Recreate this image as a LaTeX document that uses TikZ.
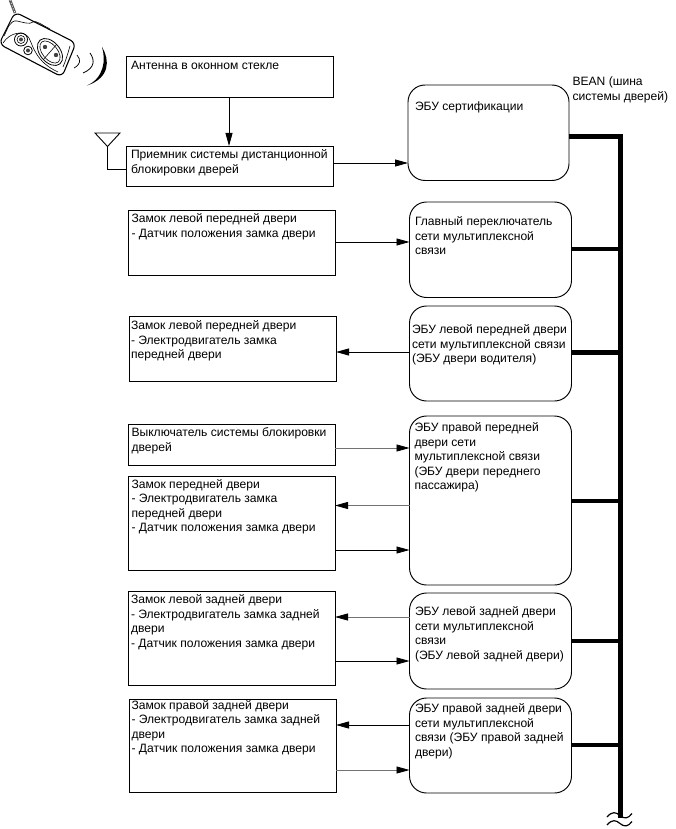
\documentclass[tikz,border=0pt]{standalone}
\usepackage{fontspec}
\setmainfont{Liberation Sans}
\usetikzlibrary{arrows.meta}
\tikzset{
  boxn/.style={draw=black,line width=.95pt,fill=white,inner sep=0pt,outer sep=0pt},
  roundn/.style={boxn,rounded corners=17pt},
  txt/.style={anchor=north west,inner sep=0pt,outer sep=0pt,align=left,
    font=\fontsize{12.1}{14.4}\selectfont,execute at begin node={\rule{0pt}{11pt}}},
  arr/.style={line width=.8pt,draw=black,-{Triangle[length=13pt,width=7pt,black]}},
  garr/.style={arr,draw=black!55},
  thin line/.style={line width=.9pt,draw=black},
  bus/.style={line width=5pt,draw=black,line cap=butt,line join=miter},
  stub/.style={line width=4.4pt,draw=black},
  fob/.style={line width=.8pt,draw=black},
}
\newcommand{\mkbox}[6]{\node[#1,minimum width={(#4-#2)*1pt},minimum height={(#5-#3)*1pt},anchor=north west] (#6) at (#2,#3) {};}
\begin{document}
\begin{tikzpicture}[x=1pt,y=-1pt]
\useasboundingbox (0,0) rectangle (675,829);
% key fob
\draw[line width=2.6pt,draw=black!65] (10,0) -- (15,13);
\draw[line width=.7pt,draw=white,dash pattern=on 1pt off 2pt] (10,0) -- (15,13);
\draw[fob,rounded corners=6pt,line width=1.1pt] (15,12) -- (76,43) -- (62,77) -- (-1,44) -- cycle;
\draw[fob,line width=.6pt] (4,36) .. controls (8,28) and (10,20) .. (17,21) .. controls (22,22) and (30,25) .. (33,22) .. controls (36,20) and (42,25) .. (50,29);
\draw[fob,line width=.6pt] (3,43) .. controls (10,32) and (24,30) .. (29,38) .. controls (33,46) and (36,62) .. (58,72);
\draw[fob,line width=.6pt] (70,46) .. controls (68,53) and (66,60) .. (63,67);
\draw[fob] (21,39.5) circle[radius=6.5];
\draw[fob,line width=.6pt] (21,39.5) circle[radius=4];
\fill[black!75] (21,39.5) circle[radius=2];
\draw[fob] (28,50.5) circle[radius=4.3];
\fill[black!75] (28,50.5) circle[radius=2];
\draw[fob,rotate around={-50:(50,52)}] (50,52) ellipse[x radius=15.5,y radius=10];
\draw[fob,line width=.6pt,rotate around={-50:(50,52)}] (50,52) ellipse[x radius=13,y radius=7.5];
\draw[fob,line width=.6pt] (43,60) -- (57,44);
\fill[black!75] (45,47) circle[radius=2.2];
\fill[black!75] (56,55) circle[radius=2.2];
% radio waves
\draw[fob,line width=.7pt] (77,55) .. controls (81,60) and (81,64) .. (74,68);
\draw[fob,line width=.8pt] (90,53) .. controls (95,60) and (95,68) .. (83,73);
\fill[black] (102,47) .. controls (110,60) and (110,78) .. (87,85.5) .. controls (104,78) and (106,60) .. (102,47) -- cycle;
% left boxes
\mkbox{boxn}{126}{56}{333}{97}{A}
\mkbox{boxn}{126}{146}{333}{186}{Rc}
\mkbox{boxn}{128}{210}{335}{275.5}{La}
\mkbox{boxn}{129}{316}{336}{381}{Lb}
\mkbox{boxn}{128}{424}{335}{465}{Lc}
\mkbox{boxn}{128}{476}{335}{570.5}{Ld}
\mkbox{boxn}{128}{591}{335}{685}{Le}
\mkbox{boxn}{129}{699}{336}{792.5}{Lf}
% right boxes
\mkbox{roundn}{408}{85}{569}{180.5}{Ea}
\mkbox{roundn}{409.5}{202}{571.5}{297.5}{Eb}
\mkbox{roundn}{409.5}{306}{571.5}{401}{Ec}
\mkbox{roundn}{409.5}{416}{571.5}{585}{Ed}
\mkbox{roundn}{409.5}{593}{571.5}{689}{Ee}
\mkbox{roundn}{409.5}{698}{571.5}{793}{Ef}
% texts
\node[txt] (tA) at (131,59) {Антенна в оконном стекле};
\node[txt] (tRc) at (131,150) {Приемник системы дистанционной\\блокировки дверей};
\node[txt] (tLa) at (131.5,214) {Замок левой передней двери\\- Датчик положения замка двери};
\node[txt] (tLb) at (131,321) {Замок левой передней двери\\- Электродвигатель замка\\передней двери};
\node[txt] (tLc) at (131.5,428) {Выключатель системы блокировки\\дверей};
\node[txt] (tLd) at (131.5,479.5) {Замок передней двери\\- Электродвигатель замка\\передней двери\\- Датчик положения замка двери};
\node[txt] (tLe) at (131,595) {Замок левой задней двери\\- Электродвигатель замка задней\\двери\\- Датчик положения замка двери};
\node[txt] (tLf) at (131.5,700.5) {Замок правой задней двери\\- Электродвигатель замка задней\\двери\\- Датчик положения замка двери};
\node[txt] (tEa) at (415,100) {ЭБУ сертификации};
\node[txt] (tEb) at (415,217) {Главный переключатель\\сети мультиплексной\\связи};
\node[txt] (tEc) at (412,325) {ЭБУ левой передней двери\\сети мультиплексной связи\\(ЭБУ двери водителя)};
\node[txt] (tEd) at (414.5,423) {ЭБУ правой передней\\двери сети\\мультиплексной связи\\(ЭБУ двери переднего\\пассажира)};
\node[txt] (tEe) at (415,607) {ЭБУ левой задней двери\\сети мультиплексной\\связи\\(ЭБУ левой задней двери)};
\node[txt] (tEf) at (415,704) {ЭБУ правой задней двери\\сети мультиплексной\\связи (ЭБУ правой задней\\двери)};
\node[txt] (tBus) at (572.5,77) {BEAN (шина\\системы дверей)};
% antenna
\coordinate (antL) at (95,133);
\coordinate (antR) at (120,133);
\coordinate (antT) at (107.5,146.5);
\draw[thin line] (antL) -- (antR) -- (antT) -- cycle;
\draw[thin line] (antT) |- (Rc.west|-0,169);
% arrows
\draw[arr] (A.south-|229,0) -- (Rc.north-|229,0);
\draw[arr] (Rc.east|-0,163) -- (Ea.west|-0,163);
\draw[arr] (La.east|-0,242) -- (Eb.west|-0,242);
\draw[arr] (Ec.west|-0,352) -- (Lb.east|-0,352);
\draw[garr] (Lc.east|-0,448) -- (Ed.west|-0,448);
\draw[garr] (Ed.west|-0,505.5) -- (Ld.east|-0,505.5);
\draw[arr] (Ld.east|-0,550) -- (Ed.west|-0,550);
\draw[garr] (Ee.west|-0,617) -- (Le.east|-0,617);
\draw[arr] (Le.east|-0,661) -- (Ee.west|-0,661);
\draw[arr] (Ef.west|-0,725) -- (Lf.east|-0,725);
\draw[garr] (Lf.east|-0,770) -- (Ef.west|-0,770);
% bus
\coordinate (busend) at (620,818);
\draw[bus] (Ea.east|-0,137) -| (busend);
\draw[stub] (Eb.east|-0,249) -- (busend|-0,249);
\draw[stub] (Ec.east|-0,352.5) -- (busend|-0,352.5);
\draw[stub] (Ed.east|-0,501) -- (busend|-0,501);
\draw[stub] (Ee.east|-0,641) -- (busend|-0,641);
\draw[stub] (Ef.east|-0,745) -- (busend|-0,745);
% break mark
\draw[line width=1.2pt,fill=white,draw=white] (606,819) rectangle (634,823);
\draw[line width=1.2pt] (607,817) .. controls (612,811) and (616,812) .. (620,815.5) .. controls (624,819) and (628,819) .. (632,813.5);
\draw[line width=1.2pt] (607,825) .. controls (612,819) and (616,820) .. (620,823.5) .. controls (624,827) and (628,827) .. (632,821.5);
\end{tikzpicture}
\end{document}
